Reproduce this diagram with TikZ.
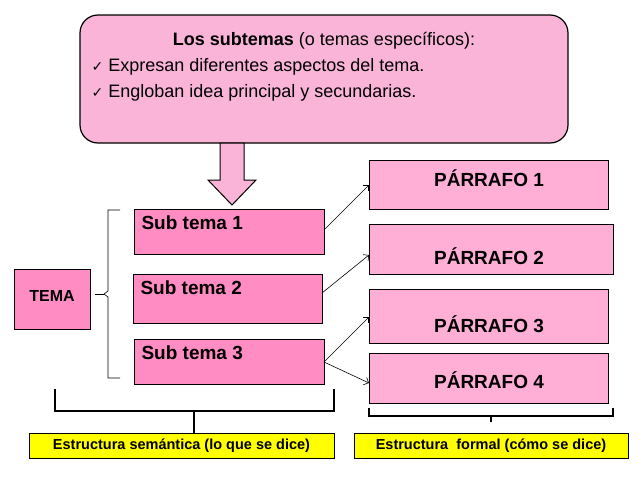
\documentclass[tikz,border=0pt]{standalone}
\usepackage{fontspec}
\setmainfont{Liberation Sans}
\newfontfamily\dv{DejaVu Sans}
\usetikzlibrary{arrows.meta}
\definecolor{topfill}{HTML}{F9B4D8}
\definecolor{subfill}{HTML}{FF8CC2}
\definecolor{pfill}{HTML}{FFAED6}
\definecolor{yel}{HTML}{FFFF00}
\tikzset{
 box/.style={draw=black, line width=1pt, inner sep=0pt},
 lbl/.style={font=\bfseries\fontsize{19}{21}\selectfont, anchor=north west},
 plbl/.style={font=\bfseries\fontsize{19}{21}\selectfont},
 con/.style={-{Straight Barb[length=4pt]}, line width=0.6pt},
 brk/.style={line width=2pt},
 toptxt/.style={font=\fontsize{18}{20}\selectfont}
}
\begin{document}
\begin{tikzpicture}[x=1pt,y=-1pt]
\useasboundingbox (0,0) rectangle (638,479);
% top box
\draw[line width=1.2pt, fill=topfill, rounded corners=18pt] (80,15) rectangle (568,143);
\node[toptxt] (title) at (324,41) {\textbf{Los subtemas} (o temas específicos):};
\node[toptxt, anchor=west] (b1) at (88,67) {{\dv\fontsize{14}{15}\selectfont ✓} Expresan diferentes aspectos del tema.};
\node[toptxt, anchor=west] (b2) at (88,93) {{\dv\fontsize{14}{15}\selectfont ✓} Engloban idea principal y secundarias.};
% big arrow
\draw[line width=1pt, fill=topfill] (220,143) -- (244,143) -- (244,180) -- (256,180) -- (232,205) -- (208,180) -- (220,180) -- cycle;
% subtemas
\foreach \n/\ya/\yb/\xa/\xb in {1/209/254/134/324, 2/274/323/133/322, 3/339/384/134/324}{
  \draw[box, fill=subfill] (\xa,\ya) rectangle (\xb,\yb);
  \node[lbl] (st\n) at (\xa+4,\ya+3) {Sub tema \n};
}
\coordinate (s1) at (324,230); \coordinate (s2) at (322,293); \coordinate (s3) at (324,362);
% TEMA
\draw[box, fill=subfill] (14,269) rectangle (90,329);
\node[font=\bfseries\fontsize{16}{18}\selectfont] (tema) at (52,296) {TEMA};
% brace
\draw[line width=0.6pt] (120,210) -- (108,210) -- (108,291) -- (104,294) -- (108,297) -- (108,378) -- (120,378);
\draw[line width=0.6pt] (95,294) -- (104,294);
% parrafos
\foreach \n/\ya/\yb/\xb/\ty in {1/160/209/608/178, 2/224/274/613/256, 3/289/343/608/324, 4/353/403/608/380}{
  \draw[box, fill=pfill] (369,\ya) rectangle (\xb,\yb);
  \node[plbl] (p\n) at (489,\ty) {PÁRRAFO \n};
}
\coordinate (q1) at (369,185); \coordinate (q2) at (369,255); \coordinate (q3) at (369,317); \coordinate (q4) at (369,383);
\draw[con] (s1) -- (q1);
\draw[con] (s2) -- (q2);
\draw[con] (s3) -- (q3);
\draw[con] (s3) -- (q4);
% brackets
\draw[brk] (55,389) -- (55,411) -- (334,411) -- (334,389);
\draw[brk] (194,411) -- (194,433);
\draw[brk] (369,408) -- (369,416) -- (613,416) -- (613,408);
\draw[brk] (491,416) -- (491,422);
% yellow labels
\node[draw, line width=1pt, fill=yel, minimum width=305pt, minimum height=25pt, inner sep=0pt, font=\bfseries\fontsize{14.5}{16}\selectfont] (ys) at (181.5,445.5) {Estructura semántica (lo que se dice)};
\node[draw, line width=1pt, fill=yel, minimum width=274pt, minimum height=25pt, inner sep=0pt, font=\bfseries\fontsize{14.5}{16}\selectfont] (yf) at (491,445.5) {Estructura\ \ formal (cómo se dice)};
\end{tikzpicture}
\end{document}
